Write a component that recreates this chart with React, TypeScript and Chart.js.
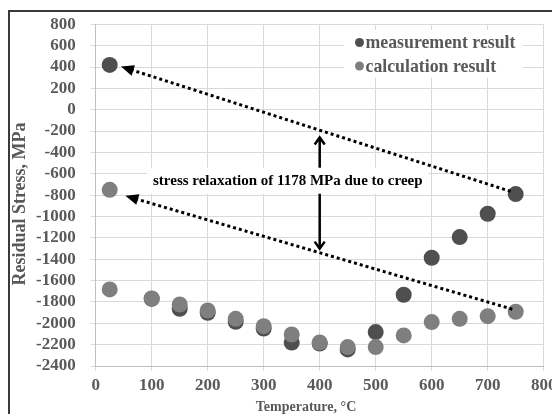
import React, { useEffect, useRef } from "react";
import { Chart, registerables } from "chart.js";

Chart.register(...registerables);

// ---- data ----
const measTemps = [25, 100, 150, 200, 250, 300, 350, 400, 450, 500, 550, 600, 650, 700, 750];
const measValues = [420, -1770, -1864, -1902, -1986, -2049, -2180, -2190, -2245, -2082, -1733, -1386, -1193, -974, -790];
const calcTemps = [25, 25, 100, 150, 200, 250, 300, 350, 400, 450, 500, 550, 600, 650, 700, 750];
const calcValues = [-750, -1683, -1768, -1824, -1880, -1958, -2027, -2105, -2180, -2223, -2223, -2114, -1989, -1958, -1933, -1892];

const seriesNames = ["measurement result", "calculation result"];
const seriesColors = ["#4f4f4f", "#7f7f7f"];

// dotted arrows: [fromT, fromV, tipT, tipV]
const arrowUpper = [741, -765, 45, 405];
const arrowLower = [744, -1868, 53, -806];
// vertical double arrow at T, top tip, bottom tip
const reliefArrow = [400, -250, -1310];
const annotationText = "stress relaxation of 1178 MPa due to creep";
const annotationPos = [343, -665];

const xAxisTitle = "Temperature, °C";
const yAxisTitle = "Residual Stress, MPa";

const SERIF = "'Liberation Serif', 'Times New Roman', serif";

function filledHead(ctx: CanvasRenderingContext2D, x0: number, y0: number, x1: number, y1: number, len: number, wid: number) {
  const a = Math.atan2(y1 - y0, x1 - x0);
  const bx = x1 - len * Math.cos(a);
  const by = y1 - len * Math.sin(a);
  const nx = -Math.sin(a) * wid / 2;
  const ny = Math.cos(a) * wid / 2;
  ctx.beginPath();
  ctx.moveTo(x1, y1);
  ctx.lineTo(bx + nx, by + ny);
  ctx.lineTo(bx - nx, by - ny);
  ctx.closePath();
  ctx.fill();
}

const overlayPlugin = {
  id: "overlay",
  afterDatasetsDraw(chart: any) {
    const ctx: CanvasRenderingContext2D = chart.ctx;
    const xs = chart.scales.x;
    const ys = chart.scales.y;
    ctx.save();
    // dotted arrows
    for (const arr of [arrowUpper, arrowLower]) {
      const x0 = xs.getPixelForValue(arr[0]);
      const y0 = ys.getPixelForValue(arr[1]);
      const x1 = xs.getPixelForValue(arr[2]);
      const y1 = ys.getPixelForValue(arr[3]);
      const a = Math.atan2(y1 - y0, x1 - x0);
      const ex = x1 - 10 * Math.cos(a);
      const ey = y1 - 10 * Math.sin(a);
      ctx.strokeStyle = "#000";
      ctx.lineWidth = 3;
      ctx.setLineDash([3, 3]);
      ctx.beginPath();
      ctx.moveTo(x0, y0);
      ctx.lineTo(ex, ey);
      ctx.stroke();
      ctx.setLineDash([]);
      ctx.fillStyle = "#000";
      filledHead(ctx, x0, y0, x1, y1, 13, 11);
    }
    // vertical double arrow
    const vx = xs.getPixelForValue(reliefArrow[0]);
    const vTop = ys.getPixelForValue(reliefArrow[1]);
    const vBot = ys.getPixelForValue(reliefArrow[2]);
    ctx.strokeStyle = "#000";
    ctx.lineWidth = 2.5;
    ctx.beginPath();
    ctx.moveTo(vx, vTop + 1);
    ctx.lineTo(vx, vBot - 1);
    ctx.stroke();
    ctx.beginPath();
    ctx.moveTo(vx - 5, vTop + 8);
    ctx.lineTo(vx, vTop + 1);
    ctx.lineTo(vx + 5, vTop + 8);
    ctx.moveTo(vx - 5, vBot - 8);
    ctx.lineTo(vx, vBot - 1);
    ctx.lineTo(vx + 5, vBot - 8);
    ctx.stroke();
    // annotation text box
    ctx.font = `bold 15px ${SERIF}`;
    const tw = ctx.measureText(annotationText).width;
    const tx = xs.getPixelForValue(annotationPos[0]);
    const ty = ys.getPixelForValue(annotationPos[1]);
    ctx.fillStyle = "#fff";
    ctx.fillRect(tx - tw / 2 - 6, ty - 13, tw + 12, 26);
    ctx.fillStyle = "#000";
    ctx.textAlign = "center";
    ctx.textBaseline = "middle";
    ctx.fillText(annotationText, tx, ty);
    // legend
    const lx = 344, ly = 30, lw = 179, lh = 48;
    ctx.fillStyle = "#fff";
    ctx.fillRect(lx, ly, lw, lh);
    ctx.font = `bold 17.8px ${SERIF}`;
    ctx.textAlign = "left";
    for (let i = 0; i < seriesNames.length; i++) {
      const cy = 42.5 + i * 23.5;
      ctx.fillStyle = seriesColors[i];
      ctx.beginPath();
      ctx.arc(359.5, cy, 4.5, 0, Math.PI * 2);
      ctx.fill();
      ctx.fillStyle = "#595959";
      ctx.fillText(seriesNames[i], 365.5, cy + 1);
    }
    // axis titles
    ctx.fillStyle = "#595959";
    ctx.font = `bold 14px ${SERIF}`;
    ctx.textAlign = "center";
    ctx.fillText(xAxisTitle, 306, 407);
    ctx.save();
    ctx.translate(20, 204);
    ctx.rotate(-Math.PI / 2);
    ctx.font = `bold 18px ${SERIF}`;
    ctx.fillText(yAxisTitle, 0, 0);
    ctx.restore();
    ctx.restore();
  },
};

export default function App() {
  const ref = useRef<HTMLCanvasElement | null>(null);
  useEffect(() => {
    if (!ref.current) return;
    const chart = new Chart(ref.current, {
      type: "scatter",
      data: {
        datasets: [
          {
            label: seriesNames[0],
            data: measTemps.map((t, i) => ({ x: t, y: measValues[i] })),
            backgroundColor: seriesColors[0],
            borderColor: seriesColors[0],
            pointRadius: 8,
            pointHoverRadius: 8,
            borderWidth: 0,
            order: 1,
          },
          {
            label: seriesNames[1],
            data: calcTemps.map((t, i) => ({ x: t, y: calcValues[i] })),
            backgroundColor: seriesColors[1],
            borderColor: seriesColors[1],
            pointRadius: 8,
            pointHoverRadius: 8,
            borderWidth: 0,
            order: 0,
          },
        ],
      },
      options: {
        responsive: false,
        animation: false,
        events: [],
        layout: { padding: { left: 0, right: 8.3, top: 24.3, bottom: 0 } },
        plugins: { legend: { display: false }, tooltip: { enabled: false } },
        scales: {
          x: {
            type: "linear",
            min: 0,
            max: 800,
            ticks: {
              stepSize: 100,
              autoSkip: false,
              maxRotation: 0,
              padding: 4,
              color: "#595959",
              font: { family: SERIF, size: 17, weight: "bold" },
              callback: (v: any) => String(v),
            },
            grid: { color: "#d9d9d9", tickLength: 5, drawTicks: true },
            border: { color: "#bfbfbf" },
            afterFit(scale: any) {
              scale.height = 48;
              scale.paddingLeft = 0;
              scale.paddingRight = 0;
            },
          },
          y: {
            type: "linear",
            min: -2400,
            max: 800,
            ticks: {
              stepSize: 200,
              autoSkip: false,
              padding: 15,
              color: "#595959",
              font: { family: SERIF, size: 17, weight: "bold" },
              callback: (v: any) => String(v),
            },
            grid: { color: "#d9d9d9", tickLength: 5, drawTicks: true },
            border: { color: "#bfbfbf" },
            afterFit(scale: any) {
              scale.width = 95.7;
              scale.paddingTop = 0;
              scale.paddingBottom = 0;
            },
          },
        },
      },
      plugins: [overlayPlugin],
    });
    return () => chart.destroy();
  }, []);
  return (
    <div style={{ position: "absolute", left: 0, top: 0, width: 552, height: 414, overflow: "hidden", background: "#fff" }}>
      <div
        style={{
          position: "absolute",
          left: 8,
          top: 10,
          width: 700,
          height: 700,
          border: "2px solid #3a3a3a",
        }}
      />
      <canvas ref={ref} width={552} height={414} style={{ position: "absolute", left: 0, top: 0, width: 552, height: 414 }} />
    </div>
  );
}
